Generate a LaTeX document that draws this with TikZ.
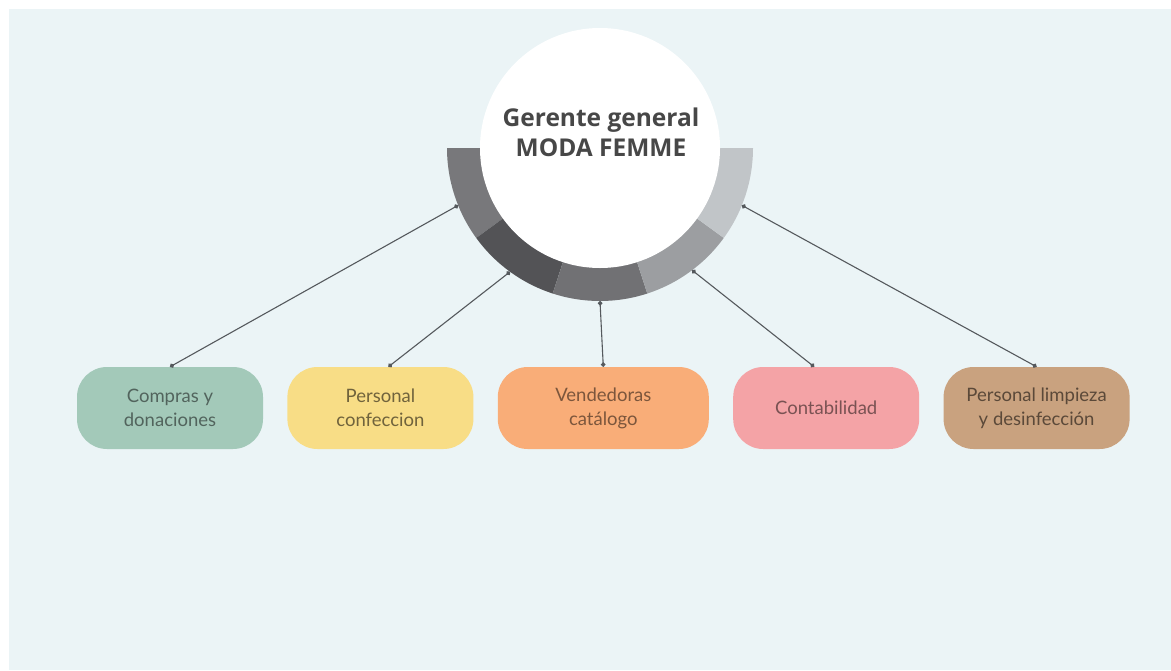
\documentclass[tikz,border=0pt]{standalone}
\usepackage{fontspec}
\setmainfont{Lato}
\newfontfamily\titlefont{Open Sans}
\usetikzlibrary{arrows.meta,positioning}
\definecolor{bgcol}{HTML}{EBF4F6}
\definecolor{ringA}{HTML}{78787B}
\definecolor{ringB}{HTML}{535356}
\definecolor{ringC}{HTML}{717174}
\definecolor{ringD}{HTML}{9C9EA1}
\definecolor{ringE}{HTML}{C1C5C8}
\definecolor{boxA}{HTML}{A3C9B9}
\definecolor{boxB}{HTML}{F8DD86}
\definecolor{boxC}{HTML}{F9AD78}
\definecolor{boxD}{HTML}{F4A3A6}
\definecolor{boxE}{HTML}{C9A27F}
\definecolor{linecol}{HTML}{55595D}

\begin{document}
\begin{tikzpicture}[
    x=1pt, y=-1pt,
    mybox/.style={
    rounded corners=30pt,
    minimum width=186pt,
    minimum height=82pt,
    inner sep=2pt,
    align=center,
    font=\fontsize{18.5}{24}\selectfont},
    myline/.style={{Circle[length=4.5pt]}-{Circle[length=4.5pt]},draw=linecol,line width=1.1pt},
    node distance=24pt and 24pt
    ]
    % background
    \fill[white] (0,0) rectangle (1171,670);
    \fill[bgcol] (9,9) rectangle (1171,670);

    % ring below the title circle
    \coordinate (ctr) at (600,148);
    \foreach \i/\col in {0/ringA,1/ringB,2/ringC,3/ringD,4/ringE}
        \fill[\col] (ctr) -- ++(180-36*\i:153) arc[start angle=180-36*\i, end angle=144-36*\i, radius=153] -- cycle;
    \node[circle, fill=white, minimum size=240pt, inner sep=0pt] (gg) at (ctr) {};
    \node[align=center, text=black!72, font=\titlefont\bfseries\fontsize{24.5}{30}\selectfont]
        (ggtext) at (601,132) {Gerente general\\MODA FEMME};

    % anchor points on the ring
    \path (ctr) ++(158:153) coordinate (r1);
    \path (ctr) ++(126:153) coordinate (r2);
    \path (ctr) ++(90:153) coordinate (r3);
    \path (ctr) ++(53:153) coordinate (r4);
    \path (ctr) ++(22:153) coordinate (r5);

    % departments
    \node[mybox, fill=boxA, text=boxA!50!black] (d1) at (170,408) {Compras y\\donaciones};
    \node[mybox, fill=boxB, text=boxB!45!black, right=of d1] (d2) {Personal\\confeccion};
    \node[mybox, fill=boxC, text=boxC!50!black, minimum width=211pt, right=of d2] (d3) {Vendedoras\\catálogo};
    \node[mybox, fill=boxD, text=boxD!50!black, right=of d3] (d4) {Contabilidad};
    \node[mybox, fill=boxE, text=boxE!45!black, right=of d4] (d5) {Personal limpieza\\y desinfección};

    \draw[myline] (r1) -- (d1.north);
    \draw[myline] (r2) -- ([xshift=8pt]d2.north);
    \draw[myline] (r3) -- (d3.north);
    \draw[myline] (r4) -- ([xshift=-12pt]d4.north);
    \draw[myline] (r5) -- (d5.north);
\end{tikzpicture}
\end{document}
